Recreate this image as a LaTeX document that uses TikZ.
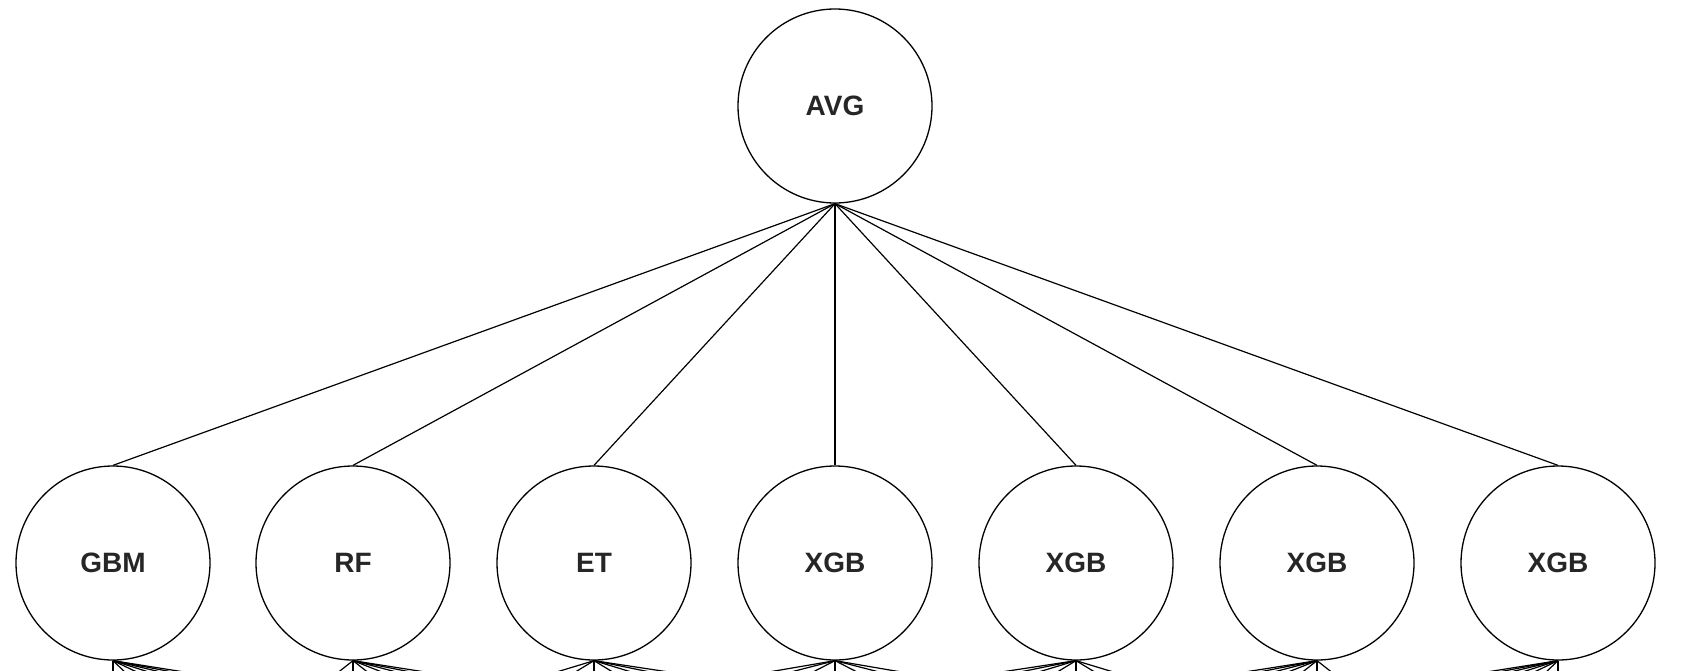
\documentclass[tikz,border=0pt]{standalone}
\usepackage{fontspec}
\setmainfont{Liberation Sans}
\begin{document}
\begin{tikzpicture}[x=1pt,y=-1pt,
  mnode/.style={draw, circle, minimum size=194pt, inner sep=0pt, line width=1.3pt,
    font=\fontsize{28}{28}\selectfont\bfseries, text=black!85},
  link/.style={line width=1.2pt}]
\useasboundingbox (0,0) rectangle (1690,670);
\clip (0,0) rectangle (1690,670);
\node[mnode] (avg) at (835,106) {AVG};
\foreach \i/\x/\t in {0/113/GBM,1/353/RF,2/594/ET,3/835/XGB,4/1076/XGB,5/1317/XGB,6/1558/XGB}{
  \node[mnode] (m\i) at (\x,563) {\t};
  \draw[link] (avg.south) -- (m\i.north);
}
% fans to the next (cropped) layer
\foreach \i/\x/\k in {0/113/14,1/353/17,2/594/22,3/835/26,4/1076/22,5/1317/17,6/1558/14}{
  \foreach \j in {0,...,6}{
    \pgfmathsetmacro{\ex}{\x+(\j-\i)*\k}
    \coordinate (e\i\j) at (\ex,674);
    \draw[link] (m\i.south) -- (e\i\j);
  }
}
\end{tikzpicture}
\end{document}
